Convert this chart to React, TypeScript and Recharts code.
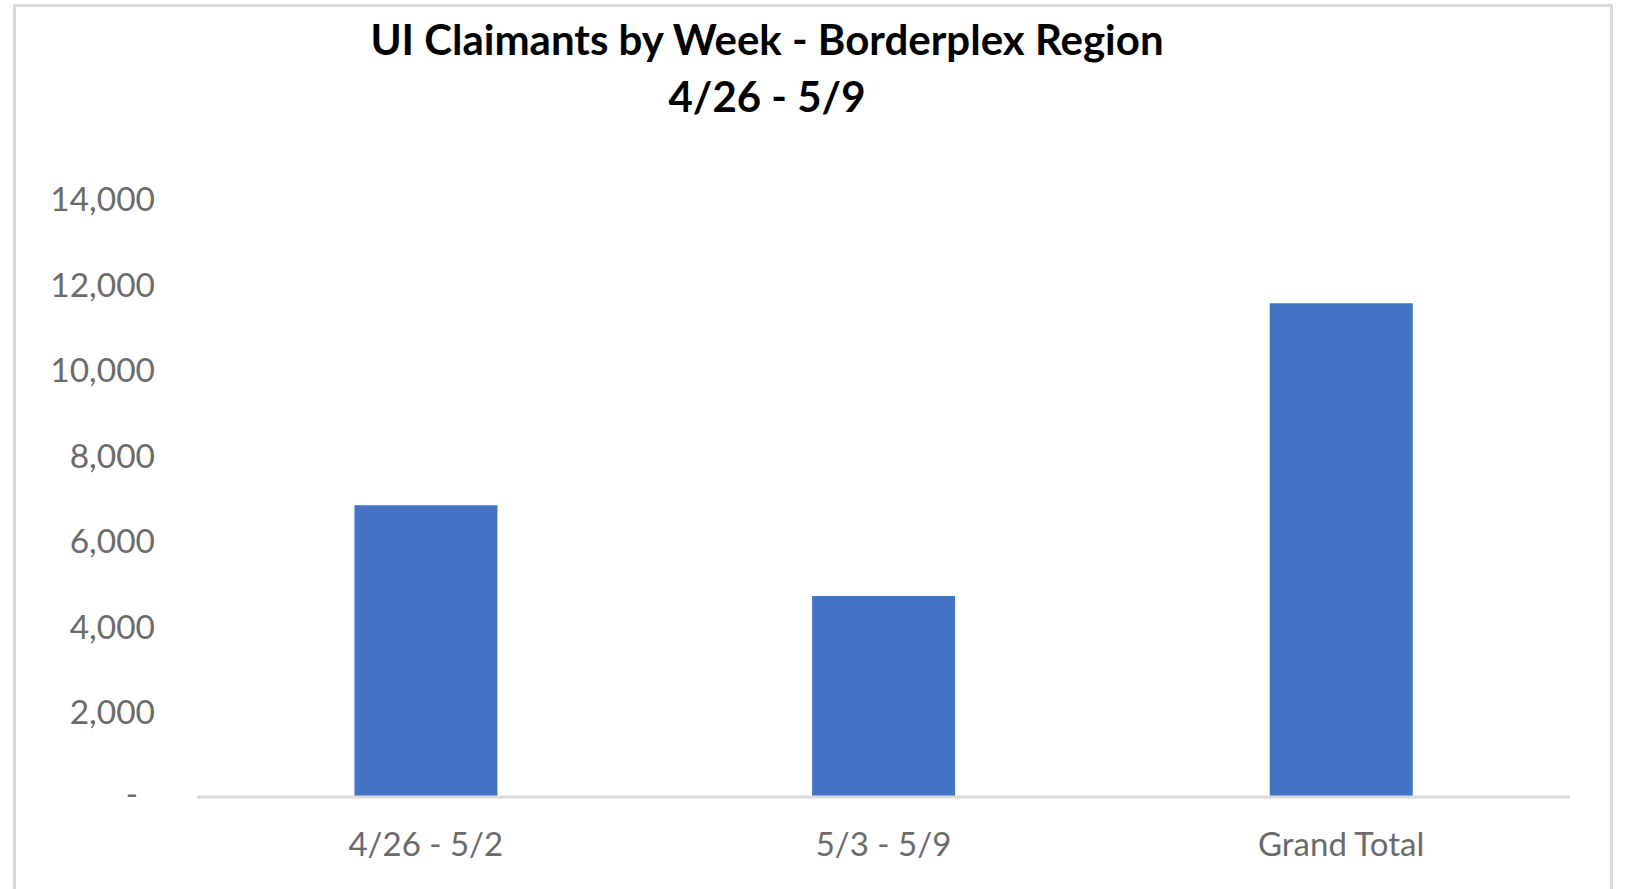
import React from "react";
import { BarChart, Bar, XAxis, YAxis } from "recharts";

const categories = ["4/26 - 5/2", "5/3 - 5/9", "Grand Total"];
const claimants = [6820, 4700, 11540];
const yTicks = [0, 2000, 4000, 6000, 8000, 10000, 12000, 14000];
const titleLines = ["UI Claimants by Week - Borderplex Region", "4/26 - 5/9"];

const data = categories.map((c, i) => ({ name: c, value: claimants[i] }));

const FONT = "Lato, 'Open Sans', sans-serif";
const TICK_COLOR = "#6b6b6b";

const YTick = (props: any) => {
  const { y, payload } = props;
  const v = payload.value as number;
  if (v === 0) {
    return (
      <text x={138} y={y - 4} textAnchor="end" dominantBaseline="central" fontFamily={FONT} fontSize={33} fill={TICK_COLOR}>
        -
      </text>
    );
  }
  return (
    <text x={155} y={y} textAnchor="end" dominantBaseline="central" fontFamily={FONT} fontSize={33.5} fill={TICK_COLOR}>
      {v.toLocaleString("en-US")}
    </text>
  );
};

const XTick = (props: any) => {
  const { x, payload } = props;
  return (
    <text x={x} y={856} textAnchor="middle" fontFamily={FONT} fontSize={33} fill={TICK_COLOR}>
      {payload.value}
    </text>
  );
};

export default function App() {
  return (
    <div style={{ position: "absolute", left: 0, top: 0, width: 1626, height: 889, background: "#fff", overflow: "hidden" }}>
      <div style={{ position: "absolute", left: 13, top: 4, width: 1600, height: 900, border: "3px solid #d9d9d9", boxSizing: "border-box" }} />
      <div style={{ position: "absolute", left: 0, top: 0 }}>
        <BarChart width={1626} height={889} data={data} margin={{ top: 198, right: 56, bottom: 32, left: 47 }} barCategoryGap="34.4%">
          <YAxis
            width={150}
            domain={[0, 14000]}
            ticks={yTicks}
            axisLine={false}
            tickLine={false}
            tick={<YTick />}
            interval={0}
          />
          <XAxis
            dataKey="name"
            height={60}
            axisLine={{ stroke: "#d9d9d9", strokeWidth: 3 }}
            tickLine={false}
            tick={<XTick />}
            interval={0}
          />
          <Bar dataKey="value" fill="#4472C4" isAnimationActive={false} />
        </BarChart>
      </div>
      <svg width={1626} height={150} style={{ position: "absolute", left: 0, top: 0 }}>
        <text x={767} y={55} textAnchor="middle" fontFamily={FONT} fontWeight="bold" fontSize={42} fill="#000">
          {titleLines[0]}
        </text>
        <text x={767} y={112} textAnchor="middle" fontFamily={FONT} fontWeight="bold" fontSize={42} fill="#000">
          {titleLines[1]}
        </text>
      </svg>
    </div>
  );
}
